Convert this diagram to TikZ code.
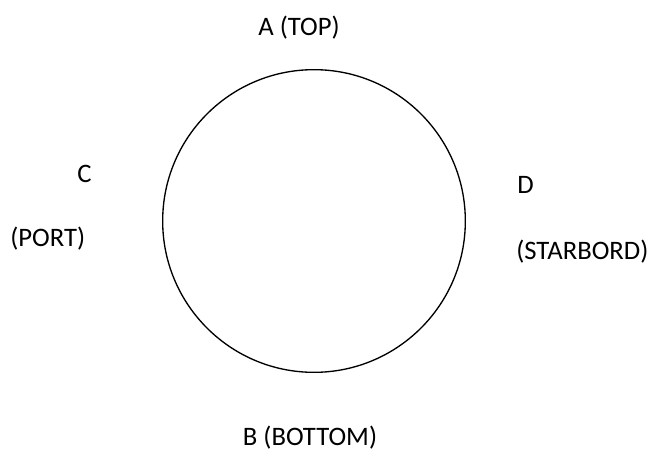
\documentclass[tikz,border=0pt]{standalone}
\usepackage{fontspec}
\setmainfont{Carlito}
\usepackage{tikz}
\usetikzlibrary{positioning}

\begin{document}
\begin{tikzpicture}[
  x=0.75pt, y=-0.75pt,
  side/.style={inner sep=0pt, font=\fontsize{20}{24}\selectfont, anchor=base #1},
  hull/.style={circle, draw=black, line width=1pt, inner sep=0pt, minimum size=227pt},
]
  \useasboundingbox (0,0) rectangle (651,450);

  % Circle
  \node[hull] (ship) at (314,221) {};

  % Labels
  \node[side=]      (top)    at (299,35)  {A (TOP)};
  \node[side=]      (bottom) at (310,445) {B (BOTTOM)};
  \node[side=west]  (c)      at (77,182)  {C};
  \node[side=west]  (port)   at (10,246)  {(PORT)};
  \node[side=west]  (d)      at (517,193) {D};
  \node[side=west]  (stb)    at (516,259) {(STARBORD)};
\end{tikzpicture}
\end{document}
